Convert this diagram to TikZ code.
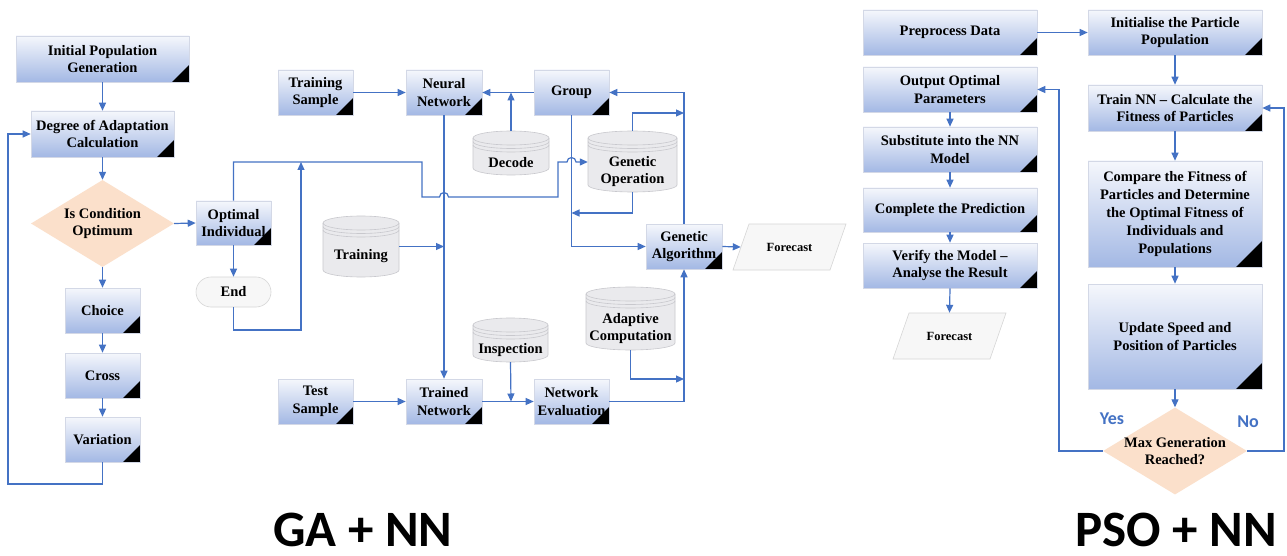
\documentclass[tikz,border=0pt]{standalone}
\usepackage{fontspec}
\setmainfont{Liberation Serif}
\newfontfamily\calfont{Carlito}
\usetikzlibrary{arrows.meta,calc,shapes.geometric}
\definecolor{lblue}{HTML}{4472C4}
\definecolor{btop}{HTML}{F5F7FC}
\definecolor{bbot}{HTML}{A3B8E4}
\definecolor{boxedge}{HTML}{D3D8E6}
\definecolor{peach}{HTML}{FBE0CB}
\definecolor{cylf}{HTML}{EAEAED}
\definecolor{cyld}{HTML}{C8C8CD}
\definecolor{parf}{HTML}{F7F7F7}
\definecolor{pard}{HTML}{D6D6D6}
\newcommand\cylnd[6]{%
  \pgfmathsetmacro\ca{#2}\pgfmathsetmacro\cb{#3}%
  \pgfmathsetmacro\ct{#4}\pgfmathsetmacro\cbt{#5}%
  \pgfmathsetmacro\crx{(#3-#2)/2}%
  \pgfmathsetmacro\cmx{(#2+#3)/2}%
  \pgfmathsetmacro\cmy{(#4+#5)/2}%
  \pgfmathsetmacro\cty{(#4+14+#5)/2+3}%
  \path[cylbody] (\ca,\ct+7) -- (\ca,\cbt-7) arc[start angle=180,end angle=360,x radius=\crx pt,y radius=7pt] -- (\cb,\ct+7) arc[start angle=0,end angle=180,x radius=\crx pt,y radius=7pt] -- cycle;
  \foreach \s in {0,3.5,7} \draw[cylrim] (\ca,\ct+7+\s) arc[start angle=180,end angle=360,x radius=\crx pt,y radius=7pt];
  \node[inner sep=0pt, minimum width=#3-#2, minimum height=#5-#4] (#1) at (\cmx,\cmy) {};
  \node[txt] at (\cmx,\cty) {#6};
}
\begin{document}
\begin{tikzpicture}[x=1pt,y=-1pt,
  arr/.style={draw=lblue, line width=1.2pt, -{Triangle[length=8pt,width=7pt]}},
  tri/.style={path picture={\fill[black] (path picture bounding box.south east) -- ++(-#1,0pt) -- ++(#1,#1) -- cycle;}},
  box/.style={rectangle, draw=boxedge, line width=0.6pt, top color=btop, bottom color=bbot, inner sep=0pt, align=center, font=\bfseries\fontsize{14.5}{17.5}\selectfont, tri=17pt},
  wh/.style 2 args={minimum width=#1, minimum height=#2},
  dia/.style={diamond, fill=peach, inner sep=0pt},
  txt/.style={align=center, font=\bfseries\fontsize{14.5}{17.5}\selectfont, inner sep=0pt},
  smalltxt/.style={align=center, font=\bfseries\fontsize{12.5}{14}\selectfont, inner sep=0pt},
  endst/.style={rectangle, rounded corners=15pt, fill=parf, draw=pard, line width=0.6pt, inner sep=0pt, font=\bfseries\fontsize{14.5}{17.5}\selectfont},
  para/.style={fill=parf, draw=pard, line width=0.6pt},
  cylbody/.style={fill=cylf, draw=cyld, line width=0.6pt},
  cylrim/.style={draw=cyld, line width=0.6pt},
  yn/.style={font=\calfont\bfseries\fontsize{18}{20}\selectfont, text=lblue, inner sep=0pt},
  title/.style={font=\calfont\bfseries\fontsize{51}{54}\selectfont, inner sep=0pt}
]
\useasboundingbox (0,0) rectangle (1287,556);
\fill[white] (0,0) rectangle (1287,556);

% ---------------- GA + NN, left column
\node[box, wh={173}{46}] (ipg) at (102.5,59) {Initial Population\\Generation};
\node[box, wh={143}{46}] (dac) at (102.5,134) {Degree of Adaptation\\Calculation};
\node[dia, wh={143}{87}, label={[txt]center:{Is Condition\\Optimum}}] (icond) at (102.5,223.5) {};
\node[box, wh={75}{45}] (choice) at (102.5,310.5) {Choice};
\node[box, wh={75}{45}] (cross) at (102.5,375.5) {Cross};
\node[box, wh={75}{45}] (vari) at (102.5,439.5) {Variation};
\node[box, wh={75}{44}] (opt) at (233.5,223) {Optimal\\Individual};
\node[endst, wh={75}{30}] (endn) at (233.5,292) {End};

% ---------------- GA + NN, network part
\node[box, wh={75}{45}] (ts) at (315.5,92.5) {Training\\Sample};
\node[box, wh={76}{45}] (nn) at (444,92.5) {Neural\\Network};
\node[box, wh={75}{45}] (grp) at (571.5,92.5) {Group};
\cylnd{dec}{473}{549}{131}{175}{Decode}
\cylnd{gop}{588}{677}{131}{192}{Genetic\\Operation}
\cylnd{trn}{323}{399}{216}{277}{Training}
\cylnd{insp}{473}{548}{318}{362}{Inspection}
\cylnd{adc}{586}{675}{287}{350}{Adaptive\\Computation}
\node[box, wh={76}{45}] (ga) at (684,246.5) {Genetic\\Algorithm};
\path[para] (733,270) -- (749,224) -- (846,224) -- (830,270) -- cycle;
\node[smalltxt, wh={97}{46}] (fc) at (789.5,247) {Forecast};
\node[box, wh={75}{45}] (tst) at (315.5,401.5) {Test\\Sample};
\node[box, wh={76}{45}] (tnet) at (444,401.5) {Trained\\Network};
\node[box, wh={75}{45}] (neval) at (571.5,401.5) {Network\\Evaluation};

% ---------------- PSO + NN
\node[box, wh={174}{45}] (pre) at (950,32.5) {Preprocess Data};
\node[box, wh={174}{45}] (ini) at (1175,32.5) {Initialise the Particle\\Population};
\node[box, wh={174}{45}] (oop) at (950,89.5) {Output Optimal\\Parameters};
\node[box, wh={174}{45}] (sub) at (950,149.5) {Substitute into the NN\\Model};
\node[box, wh={174}{44}] (cpr) at (950,210) {Complete the Prediction};
\node[box, wh={174}{45}] (ver) at (950,265.5) {Verify the Model –\\Analyse the Result};
\path[para] (893,359) -- (909,313) -- (1006,313) -- (990,359) -- cycle;
\node[smalltxt, wh={97}{46}] (fc2) at (949.5,336) {Forecast};
\node[box, wh={174}{46}] (trnn) at (1175,108) {Train NN – Calculate the\\Fitness of Particles};
\node[box, wh={174}{106}, tri=26pt, font=\bfseries\fontsize{14.5}{18.2}\selectfont] (cmpf) at (1175,214) {Compare the Fitness of\\Particles and Determine\\the Optimal Fitness of\\Individuals and\\Populations};
\node[box, wh={174}{105}, tri=26pt] (upd) at (1175,336.5) {Update Speed and\\Position of Particles};
\node[dia, wh={144}{87}, label={[txt]center:{Max Generation\\Reached?}}] (mgr) at (1175,451) {};
\node[yn] (yes) at (1112,419) {Yes};
\node[yn] (no) at (1248,422) {No};

% ---------------- titles
\node[title] (t1) at (363,530) {GA + NN};
\node[title] (t2) at (1176,530) {PSO + NN};

% ---------------- connectors, left
\draw[arr] (ipg) -- (dac);
\draw[arr] (dac) -- (icond);
\draw[arr] (icond) -- (choice);
\draw[arr] (choice) -- (cross);
\draw[arr] (cross) -- (vari);
\coordinate (lp) at (8,484);
\draw[arr] (vari.south) |- (lp) |- (dac.west);
\draw[arr] (icond.east) -- (opt.west);
\draw[arr] (opt) -- (endn);
\coordinate (j1) at (301,162);
\coordinate (j1b) at (301,330);
\draw[arr] (endn.south) |- (j1b) -- (j1);
\draw[arr] (opt.north) |- (422,162) -- (422,197) -- (439.5,197)
   arc[start angle=180,end angle=0,radius=4.5pt] -- (558,197) -- (558,162) -- (567,162)
   arc[start angle=180,end angle=0,radius=4.5pt] -- (gop.west |- j1);

% ---------------- connectors, network
\draw[arr] (ts) -- (nn);
\draw[arr] (grp) -- (nn);
\coordinate (jd) at (511,92.5);
\draw[arr] (dec.north) -- (jd);
\draw[arr] (nn.south) -- (tnet.north);
\coordinate (jt) at (444,246.5);
\draw[arr] (trn.east) -- (jt);
\draw[arr] (grp.south) |- (ga.west);
\coordinate (jg) at (571.5,213);
\draw[arr] (gop.south) |- (jg);
\coordinate (jga) at (684,113);
\draw[arr] (gop.north) |- (jga);
\draw[arr] (ga.north) |- (grp.east);
\draw[arr] (ga.east) -- (fc.west);
\draw[arr] (tst) -- (tnet);
\draw[arr] (tnet) -- (neval);
\coordinate (ji) at (511,401.5);
\draw[arr] (insp.south) -- (ji);
\coordinate (ja) at (684,379);
\draw[arr] (adc.south) |- (ja);
\draw[arr] (neval.east) -| (ga.south);

% ---------------- connectors, PSO
\draw[arr] (pre) -- (ini);
\draw[arr] (ini) -- (trnn);
\draw[arr] (trnn) -- (cmpf);
\draw[arr] (cmpf) -- (upd);
\draw[arr] (upd) -- (mgr);
\draw[arr] (oop) -- (sub);
\draw[arr] (sub) -- (cpr);
\draw[arr] (cpr) -- (ver);
\draw[arr] (ver.south) -- (fc2.north);
\coordinate (yl) at (1059,451);
\draw[arr] (mgr.west) -- (yl) |- (oop.east);
\coordinate (nr) at (1284,451);
\draw[arr] (mgr.east) -- (nr) |- (trnn.east);
\end{tikzpicture}
\end{document}
